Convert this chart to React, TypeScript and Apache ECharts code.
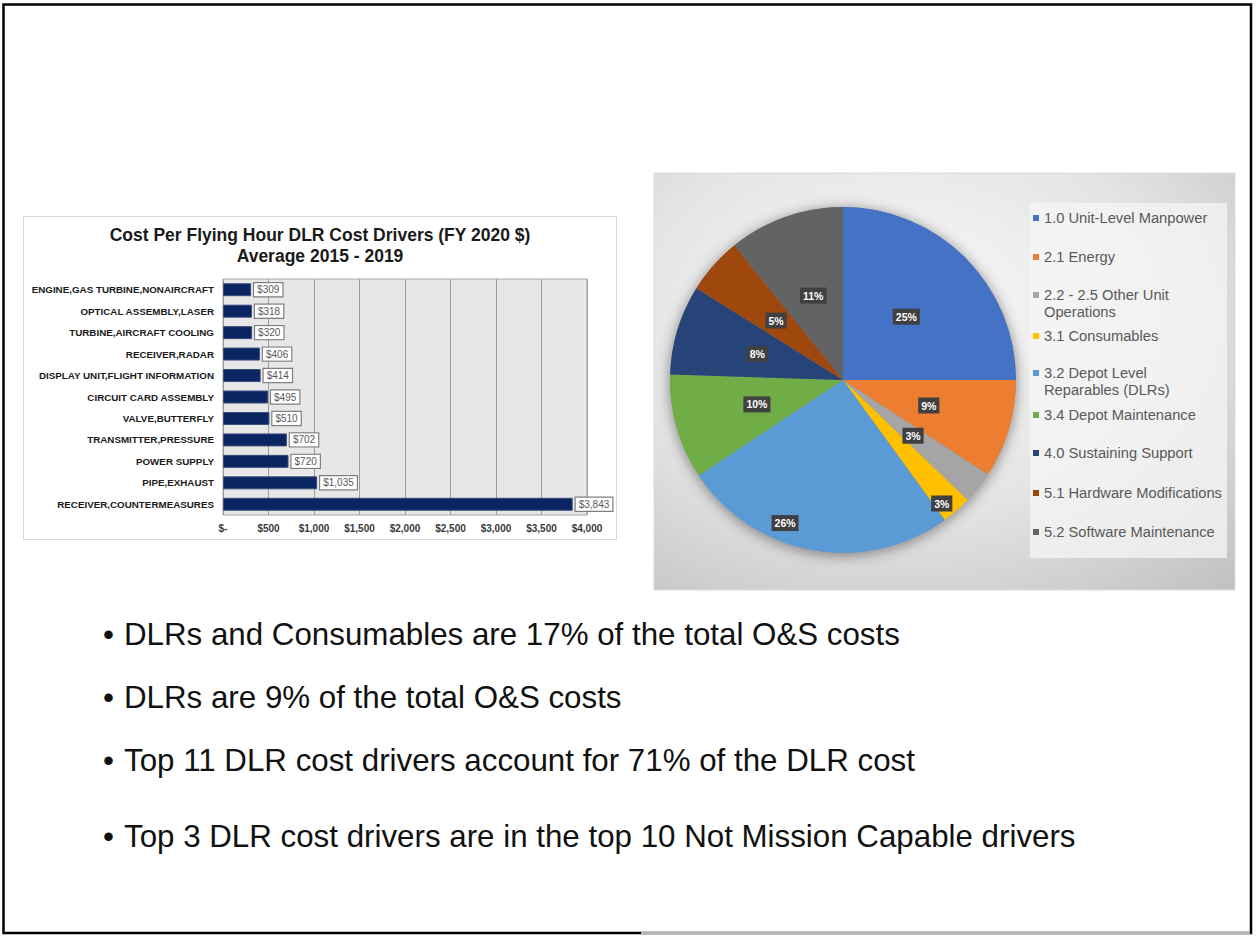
import React, { useEffect, useRef } from 'react';
import * as echarts from 'echarts';

const FONT = "'Liberation Sans', Arial, Helvetica, sans-serif";

// ---- Bar chart data ----
const barTitle = 'Cost Per Flying Hour DLR Cost Drivers (FY 2020 $)\nAverage 2015 - 2019';
const barCategories = [
  'ENGINE,GAS TURBINE,NONAIRCRAFT',
  'OPTICAL ASSEMBLY,LASER',
  'TURBINE,AIRCRAFT COOLING',
  'RECEIVER,RADAR',
  'DISPLAY UNIT,FLIGHT INFORMATION',
  'CIRCUIT CARD ASSEMBLY',
  'VALVE,BUTTERFLY',
  'TRANSMITTER,PRESSURE',
  'POWER SUPPLY',
  'PIPE,EXHAUST',
  'RECEIVER,COUNTERMEASURES',
];
const barValues = [309, 318, 320, 406, 414, 495, 510, 702, 720, 1035, 3843];
const xMin = 0;
const xMax = 4000;
const xInterval = 500;

// ---- Pie chart data ----
const pieNames = [
  '1.0 Unit-Level Manpower',
  '2.1 Energy',
  '2.2 - 2.5 Other Unit Operations',
  '3.1 Consumables',
  '3.2 Depot Level Reparables (DLRs)',
  '3.4 Depot Maintenance',
  '4.0 Sustaining Support',
  '5.1 Hardware Modifications',
  '5.2 Software Maintenance',
];
const pieValues = [25.0, 9.2, 3.0, 2.8, 25.7, 9.8, 8.4, 5.3, 10.8];
const pieColors = ['#4472C4', '#ED7D31', '#A5A5A5', '#FFC000', '#5B9BD5', '#70AD47', '#264478', '#9E480E', '#636363'];
const legendLabels = [
  '1.0 Unit-Level Manpower',
  '2.1 Energy',
  '2.2 - 2.5 Other Unit\nOperations',
  '3.1 Consumables',
  '3.2 Depot Level\nReparables (DLRs)',
  '3.4 Depot Maintenance',
  '4.0 Sustaining Support',
  '5.1 Hardware Modifications',
  '5.2 Software Maintenance',
];

// ---- Bullet text ----
const bulletLines = [
  'DLRs and Consumables are 17% of the total O&S costs',
  'DLRs are 9% of the total O&S costs',
  'Top 11 DLR cost drivers account for 71% of the DLR cost',
  'Top 3 DLR cost drivers are in the top 10 Not Mission Capable drivers',
];

export default function App() {
  const ref = useRef<HTMLDivElement>(null);

  useEffect(() => {
    if (!ref.current) return;
    const chart = echarts.init(ref.current, undefined, { renderer: 'svg' });

    const legendCenters = [218, 257, 295, 336, 373, 415, 453, 493, 532];
    const legends = pieNames.map((name, i) => {
      const twoLine = legendLabels[i].includes('\n');
      return {
        data: [name],
        orient: 'vertical',
        left: 1033,
        top: legendCenters[i] - 8.5,
        padding: 0,
        itemGap: 0,
        itemWidth: 6,
        itemHeight: twoLine ? 23 : 6,
        icon: twoLine ? 'path://M0,0H6V6H0Z M0,23L0.01,23' : 'rect',
        selectedMode: false,
        formatter: () => legendLabels[i],
        textStyle: {
          fontFamily: FONT,
          fontSize: 14.7,
          color: '#595959',
          lineHeight: 17,
        },
      };
    });

    const graphics: any[] = [
      // bar panel
      {
        type: 'rect', z: -10,
        shape: { x: 23.5, y: 216.5, width: 593, height: 323 },
        style: { fill: '#ffffff', stroke: '#d9d9d9', lineWidth: 1 },
      },
      {
        type: 'text', z: 5, x: 320, y: 224,
        style: {
          text: barTitle, align: 'center', verticalAlign: 'top',
          fontFamily: FONT, fontSize: 17.5, fontWeight: 'bold', lineHeight: 21, fill: '#1a1a1a',
        },
      },
      // pie panel
      {
        type: 'rect', z: -10,
        shape: { x: 654, y: 173, width: 581, height: 417 },
        style: {
          fill: {
            type: 'radial', x: 0.42, y: 0.35, r: 0.85,
            colorStops: [
              { offset: 0, color: '#fbfbfb' },
              { offset: 0.55, color: '#e4e4e4' },
              { offset: 1, color: '#c2c2c2' },
            ],
          },
          stroke: '#dcdcdc', lineWidth: 1,
        },
      },
      {
        type: 'rect', z: -9,
        shape: { x: 1030, y: 203, width: 197, height: 355 },
        style: { fill: 'rgba(245,245,245,0.75)' },
      },
      // page border
      {
        type: 'rect', z: 10,
        shape: { x: 3.5, y: 4.5, width: 1247.5, height: 928.5 },
        style: { fill: 'none', stroke: '#000000', lineWidth: 2.5 },
      },
      {
        type: 'line', z: 11,
        shape: { x1: 641, y1: 933, x2: 1250, y2: 933 },
        style: { stroke: '#b5b5b5', lineWidth: 2.5 },
      },
    ];
    const bulletYs = [634, 697, 760, 836];
    bulletLines.forEach((line, i) => {
      graphics.push({
        type: 'text', z: 5, x: 103, y: bulletYs[i],
        style: { text: '•', align: 'left', verticalAlign: 'middle', fontFamily: FONT, fontSize: 31.3, fill: '#111111' },
      });
      graphics.push({
        type: 'text', z: 5, x: 124, y: bulletYs[i],
        style: { text: line, align: 'left', verticalAlign: 'middle', fontFamily: FONT, fontSize: 31.3, fill: '#111111' },
      });
    });

    const option: any = {
      animation: false,
      textStyle: { fontFamily: FONT },
      graphic: graphics,
      legend: legends,
      grid: {
        left: 223, top: 279, width: 364, height: 236,
        show: true, backgroundColor: '#e7e7e7', borderColor: '#a6a6a6', borderWidth: 1,
        containLabel: false,
      },
      xAxis: {
        type: 'value', min: xMin, max: xMax, interval: xInterval,
        axisLine: { show: false }, axisTick: { show: false },
        splitLine: { show: true, lineStyle: { color: '#9c9c9c', width: 1 } },
        axisLabel: {
          margin: 8, fontSize: 10, fontWeight: 'bold', color: '#3a3a3a', fontFamily: FONT,
          formatter: (v: number) => (v === 0 ? '$-' : '$' + v.toLocaleString('en-US')),
        },
      },
      yAxis: {
        type: 'category', data: barCategories, inverse: true,
        axisLine: { show: false }, axisTick: { show: false },
        axisLabel: { margin: 9, fontSize: 9.8, fontWeight: 'bold', color: '#1a1a1a', fontFamily: FONT },
      },
      series: [
        {
          type: 'bar',
          data: barValues,
          barWidth: 13,
          itemStyle: { color: '#0b2562', borderColor: '#3c4e7c', borderWidth: 1 },
          label: {
            show: true, position: 'right', distance: 3,
            formatter: (p: any) => '$' + Number(p.value).toLocaleString('en-US'),
            fontFamily: FONT, fontSize: 10, color: '#595959',
            backgroundColor: '#ffffff', borderColor: '#7f7f7f', borderWidth: 1.2,
            padding: [1, 3, 1, 3], lineHeight: 11,
          },
          emphasis: { disabled: true },
        },
        {
          type: 'pie',
          name: 'shadow',
          silent: true,
          z: 1,
          center: [843, 380],
          radius: [0, 173],
          data: [{ value: 1, name: '__shadow' }],
          itemStyle: { color: '#888888', shadowBlur: 14, shadowColor: 'rgba(0,0,0,0.45)', shadowOffsetY: 2 },
          label: { show: false },
          labelLine: { show: false },
          emphasis: { disabled: true },
        },
        {
          type: 'pie',
          z: 2,
          center: [843, 380],
          radius: [0, 173],
          startAngle: 90,
          clockwise: true,
          data: pieNames.map((n, i) => ({ name: n, value: pieValues[i], itemStyle: { color: pieColors[i] } })),
          itemStyle: { borderWidth: 0 },
          label: {
            show: true, position: 'inside',
            formatter: (p: any) => Math.round(p.value) + '%',
            fontFamily: FONT, fontSize: 10.5, fontWeight: 'bold', color: '#ffffff',
            backgroundColor: '#404040', padding: [3, 3, 2, 3],
          },
          labelLayout: (p: any) => {
            if (p.dataIndex === 3) return { dx: 40, dy: 56 };
            if (p.dataIndex === 4) return { dx: -42, dy: 55 };
            return {};
          },
          emphasis: { disabled: true },
        },
      ],
    };

    chart.setOption(option);
    return () => chart.dispose();
  }, []);

  return (
    <div
      ref={ref}
      style={{ position: 'fixed', left: 0, top: 0, width: 1257, height: 936, background: '#ffffff' }}
    />
  );
}
